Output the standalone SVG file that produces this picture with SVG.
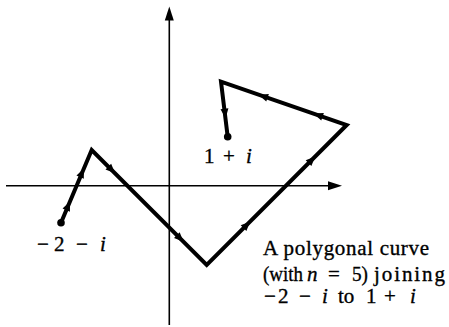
<svg xmlns="http://www.w3.org/2000/svg" width="449" height="327" viewBox="0 0 449 327">
<style>
.axis{stroke:#000;stroke-width:1.6;fill:none}
.curve{stroke:#000;stroke-width:4;fill:none;stroke-linejoin:miter}
.lbl{font-family:"Liberation Serif","Times New Roman",serif;font-size:21px;fill:#000;stroke:#000;stroke-width:0.35}
.it{font-style:italic}
</style>
<defs>
<path id="ah" d="M5,0 L-4.5,-4 L-4.5,4 Z" fill="#000"/>
<path id="axh" d="M0,0 L-14,-4.5 L-14,4.5 Z" fill="#000"/>
</defs>
<rect width="449" height="327" fill="#fff"/>
<g id="axes">
<line class="axis" x1="169.3" y1="325" x2="169.3" y2="18"/>
<use href="#axh" transform="translate(169.3,6.5) rotate(-90)"/>
<line class="axis" x1="6" y1="185.7" x2="330" y2="185.7"/>
<use href="#axh" transform="translate(342,185.7)"/>
</g>
<g id="connectors">
<polyline class="curve" points="61,222.7 91.7,150 206.7,265 346.7,125 221,81.7 227.7,136.7"/>
<use href="#ah" transform="translate(68,206) rotate(-67.1)"/>
<use href="#ah" transform="translate(81.9,173) rotate(-67.1)"/>
<use href="#ah" transform="translate(111.5,169.8) rotate(45)"/>
<use href="#ah" transform="translate(180,238.3) rotate(45)"/>
<use href="#ah" transform="translate(246.7,225) rotate(-45)"/>
<use href="#ah" transform="translate(311.7,160) rotate(-45)"/>
<use href="#ah" transform="translate(318.3,115.2) rotate(-161)"/>
<use href="#ah" transform="translate(263.3,96.3) rotate(-161)"/>
<use href="#ah" transform="translate(225,113.3) rotate(83.1)"/>
</g>
<g id="start">
<circle cx="61" cy="222.7" r="3.8" fill="#000"/>
<text class="lbl" y="250.5"><tspan x="37">−</tspan><tspan x="54">2</tspan><tspan x="76">−</tspan><tspan class="it" x="100">i</tspan></text>
</g>
<g id="end">
<circle cx="227.7" cy="136.7" r="3.8" fill="#000"/>
<text class="lbl" y="163.3"><tspan x="204">1</tspan><tspan x="223">+</tspan><tspan class="it" x="246">i</tspan></text>
</g>
<g id="caption">
<text class="lbl" x="263" y="254.5" textLength="166">A polygonal curve</text>
<text class="lbl" x="263" y="280.5" textLength="40" lengthAdjust="spacingAndGlyphs">(with</text>
<text class="lbl it" x="307" y="280.5">n</text>
<text class="lbl" x="328" y="280.5">=</text>
<text class="lbl" x="352" y="280.5" textLength="16" lengthAdjust="spacingAndGlyphs">5)</text>
<text class="lbl" x="374" y="280.5" textLength="71">joining</text>
<text class="lbl" y="303"><tspan x="264">−</tspan><tspan x="278">2</tspan><tspan x="299">−</tspan><tspan class="it" x="322">i</tspan><tspan x="338">to</tspan><tspan x="366">1</tspan><tspan x="384">+</tspan><tspan class="it" x="410">i</tspan></text>
</g>
</svg>
